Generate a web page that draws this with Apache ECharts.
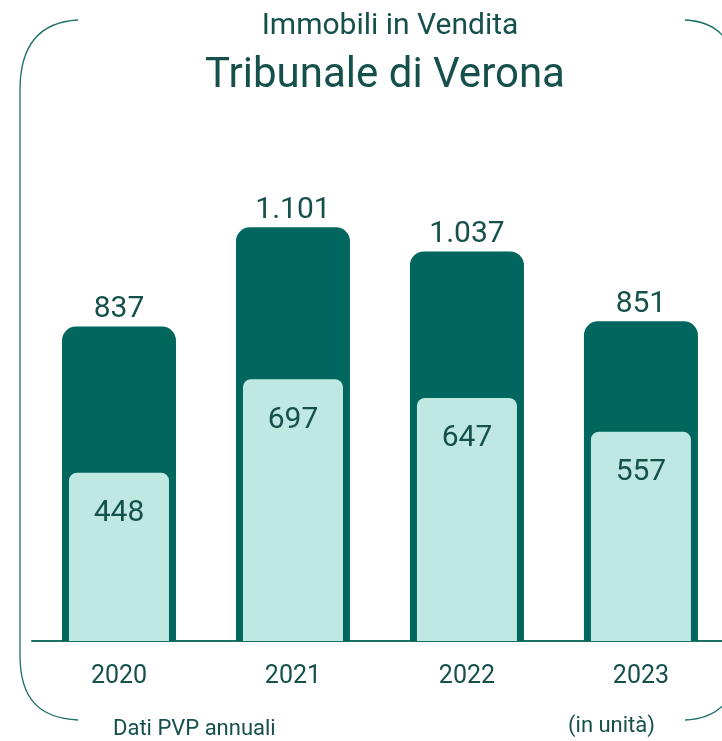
<!DOCTYPE html>
<html>
<head>
<meta charset="utf-8">
<script src="https://cdn.jsdelivr.net/npm/echarts@6/dist/echarts.min.js"></script>
<style>
  html, body { margin: 0; padding: 0; background: #fff; }
  #chart { width: 722px; height: 741px; }
</style>
</head>
<body>
<div id="chart"></div>
<script>
// dati annuali
const years = ['2020', '2021', '2022', '2023']
const totali = [837, 1101, 1037, 851]
const parziali = [448, 697, 647, 557]

const dark = '#00665E'
const light = '#BFE8E3'
const ink = '#15504B'
const frame = '#1E6E68'

const fmtIt = (v) => String(v).replace(/\B(?=(\d{3})+(?!\d))/g, '.')

const chart = echarts.init(document.getElementById('chart'))

const frameStyle = { fill: 'none', stroke: frame, lineWidth: 1.3 }

// asse x numerico: un'unità per anno
const xMin = -0.5
const xMax = 3.466
const idx = years.map((_, i) => i)

const option = {
  backgroundColor: '#fff',
  textStyle: { fontFamily: 'Roboto' },
  title: [
    {
      text: 'Immobili in Vendita',
      left: 385, top: 6, textAlign: 'center',
      textStyle: { fontFamily: 'Roboto', fontWeight: 'normal', fontSize: 30, color: ink }
    },
    {
      text: 'Tribunale di Verona',
      left: 380, top: 50, textAlign: 'center',
      textStyle: { fontFamily: 'Roboto', fontWeight: 'normal', fontSize: 42, color: ink }
    }
  ],
  grid: { left: 32, right: 0, top: 100, bottom: 100 },
  xAxis: [
    {
      type: 'value',
      min: xMin,
      max: xMax,
      splitLine: { show: false },
      axisLine: { show: true, onZero: false, lineStyle: { color: frame, width: 2 } },
      axisTick: { show: false },
      axisLabel: {
        color: ink, fontSize: 25, margin: 23,
        customValues: idx,
        formatter: (v) => years[Math.round(v)]
      }
    },
    {
      type: 'value',
      min: xMin,
      max: xMax,
      position: 'bottom',
      show: false
    }
  ],
  yAxis: {
    type: 'value',
    min: 0,
    max: 1440,
    show: false
  },
  series: [
    {
      type: 'bar',
      xAxisIndex: 0,
      data: totali.map((v, i) => [i, v]),
      barWidth: 114,
      itemStyle: { color: dark, borderRadius: [14, 14, 0, 0] },
      label: {
        show: true, position: 'top', distance: 2,
        color: ink, fontSize: 30,
        formatter: (p) => fmtIt(p.value[1])
      },
      z: 2
    },
    {
      type: 'bar',
      xAxisIndex: 1,
      data: parziali.map((v, i) => [i, v]),
      barWidth: 100,
      itemStyle: { color: light, borderRadius: [8, 8, 0, 0] },
      label: {
        show: true, position: 'insideTop', distance: 26,
        color: ink, fontSize: 30,
        formatter: (p) => fmtIt(p.value[1])
      },
      z: 3
    }
  ],
  graphic: [
    {
      type: 'bezierCurve',
      shape: { x1: 78, y1: 20, cpx1: 40, cpy1: 22, cpx2: 20, cpy2: 45, x2: 20, y2: 90 },
      style: frameStyle
    },
    {
      type: 'line',
      shape: { x1: 20, y1: 90, x2: 20, y2: 655 },
      style: frameStyle
    },
    {
      type: 'bezierCurve',
      shape: { x1: 20, y1: 655, cpx1: 20, cpy1: 700, cpx2: 40, cpy2: 718, x2: 78, y2: 720 },
      style: frameStyle
    },
    {
      type: 'bezierCurve',
      shape: { x1: 685, y1: 20, cpx1: 705, cpy1: 21, cpx2: 718, cpy2: 28, x2: 726, y2: 40 },
      style: frameStyle
    },
    {
      type: 'bezierCurve',
      shape: { x1: 685, y1: 720, cpx1: 705, cpy1: 719, cpx2: 718, cpy2: 712, x2: 726, y2: 702 },
      style: frameStyle
    },
    {
      type: 'text', left: 113, top: 718,
      style: { text: 'Dati PVP annuali', fill: ink, fontSize: 22, fontFamily: 'Roboto' }
    },
    {
      type: 'text', left: 568, top: 715,
      style: { text: '(in unità)', fill: ink, fontSize: 22, fontFamily: 'Roboto' }
    }
  ]
}

chart.setOption(option)
</script>
</body>
</html>
